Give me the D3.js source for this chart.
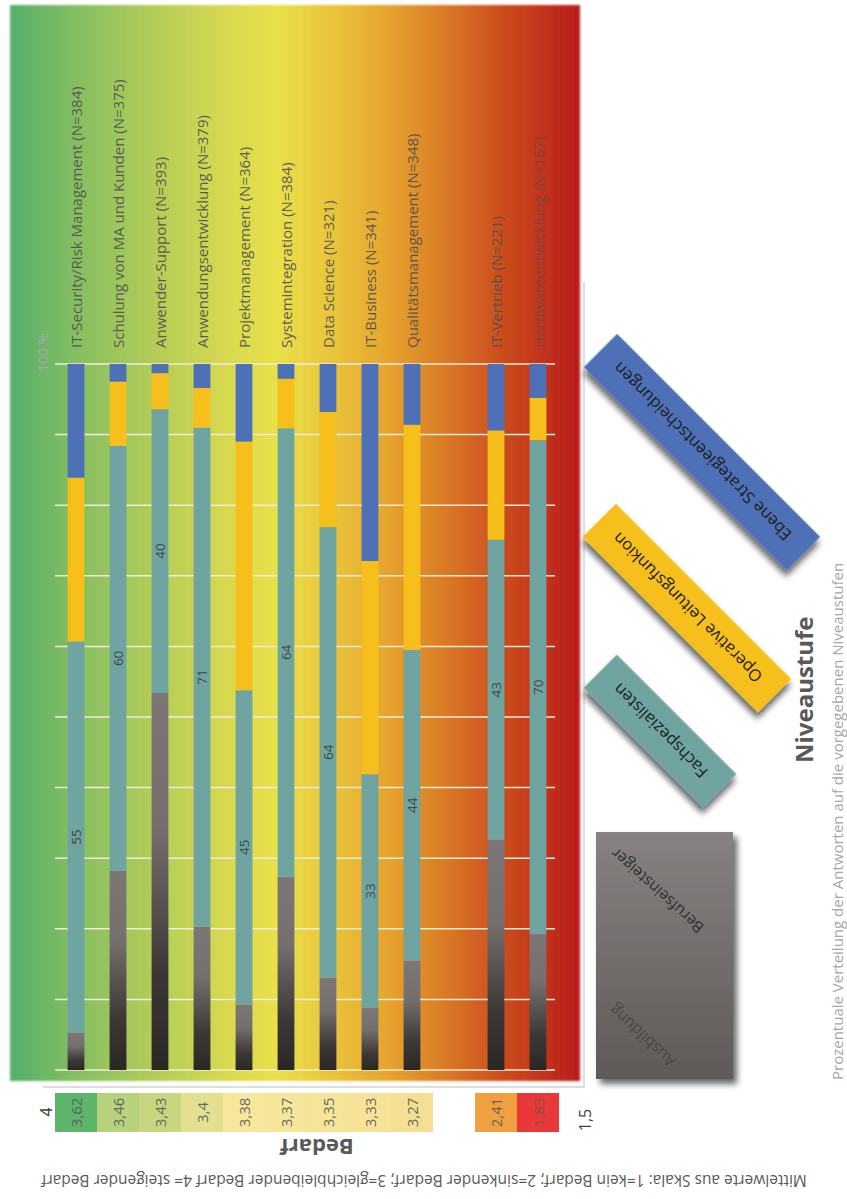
<!DOCTYPE html>
<html lang="de">
<head>
<meta charset="UTF-8">
<title>Niveaustufen und Bedarf</title>
<script src="https://d3js.org/d3.v7.min.js"></script>
<style>
  body { margin: 0; background: #fff; }
  text { font-family: "Open Sans", "DejaVu Sans", sans-serif; }
</style>
</head>
<body>
<svg id="chart"></svg>
<script>
// Kategorien (Berufsfelder) mit Anzahl der Antworten
const categories = [
  "IT-Security/Risk Management (N=384)",
  "Schulung von MA und Kunden (N=375)",
  "Anwender-Support (N=393)",
  "Anwendungsentwicklung (N=379)",
  "Projektmanagement (N=364)",
  "Systemintegration (N=384)",
  "Data Science (N=321)",
  "IT-Business (N=341)",
  "Qualitätsmanagement (N=348)",
  "IT-Vertrieb (N=221)",
  "Hardwareentwicklung (N=167)"
];

// Prozentanteile je Niveaustufe (von unten nach oben gestapelt)
const ausbildungBerufseinsteiger = [5.3, 28.2, 53.4, 20.3, 9.3, 27.4, 13.1, 8.8, 15.5, 32.6, 19.2];
const fachspezialisten = [55.4, 60.2, 40.2, 70.7, 44.5, 63.5, 63.8, 33.1, 44.0, 42.5, 70.0];
const operativeLeitung = [23.2, 9.1, 5.1, 5.6, 35.2, 7.0, 16.3, 30.2, 31.9, 15.5, 6.0];
const ebeneStrategie = [16.1, 2.5, 1.3, 3.4, 11.0, 2.1, 6.8, 27.9, 8.6, 9.4, 4.8];

// Mittelwerte Bedarf (Skala 1-4)
const bedarf = [3.62, 3.46, 3.43, 3.4, 3.38, 3.37, 3.35, 3.33, 3.27, 2.41, 1.83];
const bedarfScaleLabels = ["4", "1,5"];

const seriesKeys = ["ausb", "fach", "oper", "ebene"];
const legendLabels = ["Ausbildung", "Berufseinsteiger", "Fachspezialisten",
                      "Operative Leitungsfunkion", "Ebene Strategieentscheidungen"];
const percentTicks = d3.range(0, 101, 10);

const width = 847, height = 1199;
const svg = d3.select("#chart").attr("width", width).attr("height", height);
const defs = svg.append("defs");

// table for the stack layout
const table = categories.map((c, i) => ({
  name: c,
  ausb: ausbildungBerufseinsteiger[i],
  fach: fachspezialisten[i],
  oper: operativeLeitung[i],
  ebene: ebeneStrategie[i],
  bedarf: bedarf[i]
}));

// one empty slot between Qualitätsmanagement and IT-Vertrieb
const slots = categories.slice(0, 9).concat(["gap"], categories.slice(9));

const xScale = d3.scaleBand()
  .domain(slots)
  .range([55, 559])
  .paddingInner(0.6)
  .paddingOuter(0.3);

const yScale = d3.scaleLinear()
  .domain([0, 100])
  .range([1070, 364]);

const colors = {
  ausb: "url(#greyBar)",
  fach: "#6fa4a0",
  oper: "#f6bf1b",
  ebene: "#4d70b7"
};

// background panel gradient
const bg = defs.append("linearGradient").attr("id", "panelGrad")
  .attr("x1", 0).attr("y1", 0).attr("x2", 1).attr("y2", 0);
[[0, "#55ae6b"], [0.12, "#86bf62"], [0.25, "#b2cc58"], [0.38, "#d8d950"],
 [0.47, "#e8e14a"], [0.56, "#e9c63c"], [0.66, "#e6a52e"], [0.76, "#da7c26"],
 [0.86, "#cc4e1e"], [1, "#b91c1a"]]
  .forEach(s => bg.append("stop").attr("offset", s[0]).attr("stop-color", s[1]));

const gb = defs.append("linearGradient").attr("id", "greyBar")
  .attr("x1", 0).attr("y1", 0).attr("x2", 0).attr("y2", 1);
[[0, "#7c7776"], [0.35, "#75706e"], [0.75, "#3b3734"], [1, "#2a2825"]]
  .forEach(s => gb.append("stop").attr("offset", s[0]).attr("stop-color", s[1]));

const gl = defs.append("linearGradient").attr("id", "greyLegend")
  .attr("x1", 0).attr("y1", 0).attr("x2", 0).attr("y2", 1);
[[0, "#878281"], [1, "#5f5a58"]]
  .forEach(s => gl.append("stop").attr("offset", s[0]).attr("stop-color", s[1]));

const shadow = defs.append("filter").attr("id", "shadow")
  .attr("x", "-20%").attr("y", "-20%").attr("width", "150%").attr("height", "150%");
shadow.append("feDropShadow").attr("dx", 4).attr("dy", 5).attr("stdDeviation", 3)
  .attr("flood-color", "#000").attr("flood-opacity", 0.6);

const soft = defs.append("filter").attr("id", "soft");
soft.append("feGaussianBlur").attr("stdDeviation", 1.2);

// frame lines and panel
svg.append("path")
  .attr("d", "M584,282 V1087 H43")
  .attr("fill", "none").attr("stroke", "#d4d4d4").attr("stroke-width", 1.5);

svg.append("rect")
  .attr("x", 10).attr("y", 5).attr("width", 570).attr("height", 1076)
  .attr("fill", "url(#panelGrad)")
  .attr("filter", "url(#soft)");

// gridlines
svg.append("g")
  .selectAll("line")
  .data(percentTicks)
  .join("line")
  .attr("x1", xScale.range()[0]).attr("x2", xScale.range()[1] - 4)
  .attr("y1", d => yScale(d)).attr("y2", d => yScale(d))
  .attr("stroke", "#f2ecd4").attr("stroke-width", 1.5);

svg.append("text")
  .attr("transform", `translate(42, ${yScale(100) + 8}) rotate(-90)`)
  .attr("dominant-baseline", "central")
  .attr("font-size", 14).attr("fill", "#a8a8a8")
  .text("100 %");

// stacked bars
const stacked = d3.stack().keys(seriesKeys)(table);

svg.append("g")
  .selectAll("g")
  .data(stacked)
  .join("g")
  .attr("fill", d => colors[d.key])
  .selectAll("rect")
  .data(d => d)
  .join("rect")
  .attr("x", d => xScale(d.data.name))
  .attr("width", xScale.bandwidth())
  .attr("y", d => yScale(d[1]))
  .attr("height", d => yScale(d[0]) - yScale(d[1]));

// value labels on the Fachspezialisten segment
const fachLayer = stacked.find(s => s.key === "fach");
svg.append("g")
  .selectAll("text")
  .data(fachLayer)
  .join("text")
  .attr("transform", d => `translate(${xScale(d.data.name) + xScale.bandwidth() / 2},
      ${(yScale(d[0]) + yScale(d[1])) / 2}) rotate(-90)`)
  .attr("text-anchor", "middle")
  .attr("dominant-baseline", "central")
  .attr("font-size", 13.5).attr("fill", "#454545")
  .text(d => Math.round(d.data.fach));

// category labels above the bars
svg.append("g")
  .selectAll("text")
  .data(categories)
  .join("text")
  .attr("transform", d => `translate(${xScale(d) + xScale.bandwidth() / 2}, 348) rotate(-90)`)
  .attr("dominant-baseline", "central")
  .attr("font-size", 15)
  .attr("fill", "#4f4f4f")
  .attr("fill-opacity", (d, i) => i === categories.length - 1 ? 0.62 : 0.92)
  .text(d => d);

// Bedarf strip
const bedarfColor = d3.scaleLinear()
  .domain([1.83, 2.41, 3.38, 3.43, 3.62])
  .range(["#e8383a", "#f0a040", "#f6e79c", "#c8d680", "#5db56c"]);

const step = xScale.step();
const strip = svg.append("g");
strip.selectAll("rect")
  .data(table)
  .join("rect")
  .attr("x", d => xScale(d.name) + xScale.bandwidth() / 2 - step / 2)
  .attr("width", step)
  .attr("y", 1093).attr("height", 39)
  .attr("fill", d => bedarfColor(d.bedarf));

strip.selectAll("text")
  .data(table)
  .join("text")
  .attr("transform", d => `translate(${xScale(d.name) + xScale.bandwidth() / 2}, 1112.5) rotate(-90)`)
  .attr("text-anchor", "middle")
  .attr("dominant-baseline", "central")
  .attr("font-size", 15)
  .attr("fill", "#595959")
  .attr("fill-opacity", d => d.bedarf < 2 ? 0.6 : 0.9)
  .text(d => String(d.bedarf).replace(".", ","));

svg.append("text")
  .attr("transform", "translate(46, 1112) rotate(-90)")
  .attr("text-anchor", "middle").attr("dominant-baseline", "central")
  .attr("font-size", 16).attr("fill", "#404040")
  .text(bedarfScaleLabels[0]);

svg.append("text")
  .attr("transform", "translate(585, 1120) rotate(-90)")
  .attr("text-anchor", "middle").attr("dominant-baseline", "central")
  .attr("font-size", 16).attr("fill", "#404040")
  .text(bedarfScaleLabels[1]);

svg.append("text")
  .attr("transform", "translate(317, 1148) rotate(180)")
  .attr("text-anchor", "middle").attr("dominant-baseline", "central")
  .attr("font-size", 22).attr("font-weight", "bold").attr("fill", "#595959")
  .text("Bedarf");

svg.append("text")
  .attr("transform", "translate(424, 1181) rotate(180)")
  .attr("text-anchor", "middle").attr("dominant-baseline", "central")
  .attr("font-size", 15.5).attr("fill", "#595959")
  .text("Mittelwerte aus Skala: 1=kein Bedarf; 2=sinkender Bedarf; 3=gleichbleibender Bedarf 4= steigender Bedarf");

// legend (Niveaustufen)
const legend = svg.append("g");

legend.append("rect")
  .attr("x", 596).attr("y", 832).attr("width", 137).attr("height", 247)
  .attr("fill", "url(#greyLegend)")
  .attr("filter", "url(#shadow)");

legend.append("text")
  .attr("transform", "translate(657, 891) rotate(222)")
  .attr("text-anchor", "middle").attr("dominant-baseline", "central")
  .attr("font-size", 15.5).attr("fill", "#2e2e2e")
  .text(legendLabels[1]);

legend.append("text")
  .attr("transform", "translate(642, 1036) rotate(223)")
  .attr("text-anchor", "middle").attr("dominant-baseline", "central")
  .attr("font-size", 16).attr("fill", "#4a4644")
  .text(legendLabels[0]);

const tiles = [
  { label: legendLabels[2], color: colors.fach, cx: 660, cy: 731, len: 169 },
  { label: legendLabels[3], color: colors.oper, cx: 687, cy: 608, len: 248 },
  { label: legendLabels[4], color: colors.ebene, cx: 702, cy: 452, len: 287 }
];

const tile = legend.selectAll("g.tile")
  .data(tiles)
  .join("g")
  .attr("class", "tile")
  .attr("transform", d => `translate(${d.cx}, ${d.cy}) rotate(45)`);

tile.append("rect")
  .attr("x", d => -d.len / 2).attr("y", -23.5)
  .attr("width", d => d.len).attr("height", 47)
  .attr("fill", d => d.color)
  .attr("filter", "url(#shadow)");

tile.append("text")
  .attr("transform", "rotate(180)")
  .attr("text-anchor", "middle").attr("dominant-baseline", "central")
  .attr("font-size", 16.5).attr("fill", "#1e1e1e")
  .text(d => d.label);

svg.append("text")
  .attr("transform", "translate(803, 763) rotate(-90)")
  .attr("dominant-baseline", "central")
  .attr("font-size", 24).attr("font-weight", "bold").attr("fill", "#595959")
  .text("Niveaustufe");

svg.append("text")
  .attr("transform", "translate(837, 1080) rotate(-90)")
  .attr("dominant-baseline", "central")
  .attr("font-size", 15).attr("fill", "#a6a6a6")
  .text("Prozentuale Verteilung der Antworten auf die vorgegebenen Niveaustufen");
</script>
</body>
</html>
